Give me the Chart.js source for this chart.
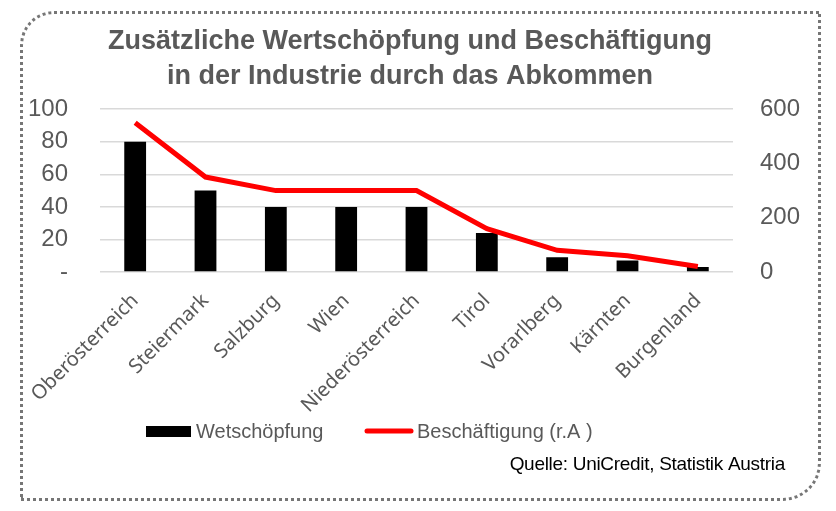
<!DOCTYPE html>
<html lang="de">
<head>
<meta charset="utf-8">
<title>Zusätzliche Wertschöpfung und Beschäftigung</title>
<script src="https://cdn.jsdelivr.net/npm/chart.js@4.4.1/dist/chart.umd.min.js"></script>
<style>
    html, body { margin: 0; padding: 0; background: #fff; }
    #wrap { position: relative; width: 836px; height: 511px; }
    #frame {
        position: absolute; left: 20px; top: 11px; width: 795px; height: 484px;
        border: 3px dotted #767676;
        border-radius: 34px 0 38px 0;
        pointer-events: none;
    }
</style>
</head>
<body>
<div id="wrap">
    <canvas id="chart" width="836" height="511"></canvas>
    <div id="frame"></div>
</div>
<script>
// Daten
const regions = ['Oberösterreich', 'Steiermark', 'Salzburg', 'Wien', 'Niederösterreich', 'Tirol', 'Vorarlberg', 'Kärnten', 'Burgenland'];
const wertschoepfung = [80, 50, 40, 40, 40, 24, 9, 7, 3];
const beschaeftigung = [550, 350, 300, 300, 300, 160, 80, 60, 20];
const leftTicks = [0, 20, 40, 60, 80, 100];
const rightTicks = [0, 200, 400, 600];

const GRAY = '#595959';

// Legende und Quelle selbst zeichnen
const legendAndSource = {
    id: 'legendAndSource',
    afterDraw(chart) {
        const ctx = chart.ctx;
        const ds = chart.data.datasets;
        ctx.save();
        ctx.font = '20px "Liberation Sans", Arial, sans-serif';
        ctx.textBaseline = 'middle';

        // Balken-Eintrag
        ctx.fillStyle = ds[0].backgroundColor;
        ctx.fillRect(146, 426, 45, 11);
        ctx.fillStyle = GRAY;
        ctx.fillText(ds[0].label, 196, 432);

        // Linien-Eintrag
        ctx.strokeStyle = ds[1].borderColor;
        ctx.lineWidth = 5;
        ctx.lineCap = 'round';
        ctx.beginPath();
        ctx.moveTo(367, 431);
        ctx.lineTo(411, 431);
        ctx.stroke();
        ctx.fillText(ds[1].label, 417, 432);

        // Quelle
        ctx.fillStyle = '#000';
        ctx.font = '19px "Liberation Sans", Arial, sans-serif';
        ctx.letterSpacing = '-0.3px';
        ctx.textAlign = 'right';
        ctx.fillText('Quelle: UniCredit, Statistik Austria', 785, 465);
        ctx.restore();
    }
};

new Chart(document.getElementById('chart'), {
    data: {
        labels: regions,
        datasets: [
            {
                type: 'bar',
                label: 'Wetschöpfung',
                data: wertschoepfung,
                backgroundColor: '#000000',
                yAxisID: 'y',
                categoryPercentage: 1,
                barPercentage: 0.31,
                order: 2
            },
            {
                type: 'line',
                label: 'Beschäftigung (r.A )',
                data: beschaeftigung,
                borderColor: '#ff0000',
                backgroundColor: '#ff0000',
                borderWidth: 5,
                pointRadius: 0,
                tension: 0,
                yAxisID: 'y1',
                order: 1
            }
        ]
    },
    options: {
        responsive: false,
        animation: false,
        // rechts etwas Platz, damit der Titel wie im Original leicht links sitzt
        layout: { padding: { left: 0, top: 0, bottom: 0, right: 16 } },
        plugins: {
            legend: { display: false },
            tooltip: { enabled: false },
            title: {
                display: true,
                text: ['Zusätzliche Wertschöpfung und Beschäftigung', 'in der Industrie durch das Abkommen'],
                color: GRAY,
                font: { family: '"Liberation Sans", Arial, sans-serif', size: 27, weight: 'bold', lineHeight: 1.3 },
                padding: { top: 24, bottom: 15 }
            }
        },
        scales: {
            x: {
                grid: { display: false },
                border: { display: false },
                ticks: {
                    autoSkip: false,
                    maxRotation: 45,
                    minRotation: 45,
                    padding: 9,
                    color: GRAY,
                    font: { family: '"Noto Sans", sans-serif', size: 20 }
                },
                afterFit(scale) { scale.height = 239; }
            },
            y: {
                position: 'left',
                min: 0,
                max: 100,
                afterBuildTicks(scale) { scale.ticks = leftTicks.map(v => ({ value: v })); },
                grid: { color: '#d9d9d9', lineWidth: 1.5, drawTicks: false },
                border: { display: false },
                ticks: {
                    padding: 32,
                    color: GRAY,
                    font: { family: '"Liberation Sans", Arial, sans-serif', size: 24 },
                    callback: v => v === 0 ? '-' : v
                },
                afterFit(scale) { scale.width = 100; }
            },
            y1: {
                position: 'right',
                min: 0,
                max: 600,
                afterBuildTicks(scale) { scale.ticks = rightTicks.map(v => ({ value: v })); },
                grid: { display: false, drawTicks: false },
                border: { display: false },
                ticks: {
                    padding: 27,
                    color: GRAY,
                    font: { family: '"Liberation Sans", Arial, sans-serif', size: 24 }
                },
                afterFit(scale) { scale.width = 87; }
            }
        }
    },
    plugins: [legendAndSource]
});
</script>
</body>
</html>
